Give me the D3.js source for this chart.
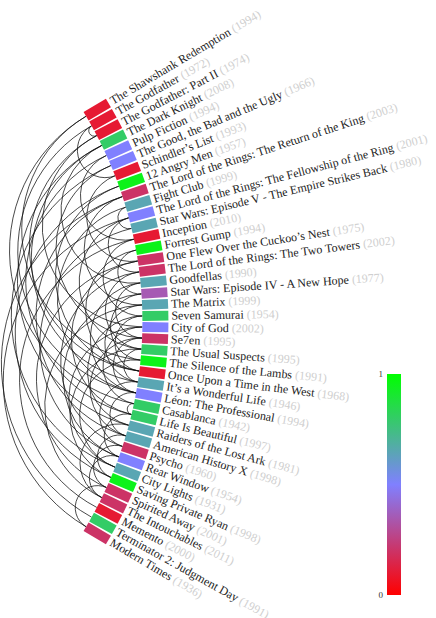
<!DOCTYPE html>
<html>
<head>
<meta charset="utf-8">
<script src="https://cdn.jsdelivr.net/npm/d3@7"></script>
<style>
  body { margin: 0; background: #fff; }
  text { font-family: "Liberation Serif", "DejaVu Serif", serif; }
</style>
</head>
<body>
<div id="chart"></div>
<script>
'use strict';

// Data - movies in layout order, year, score (0..1) and links
const titles = [
  'The Shawshank Redemption', 'The Godfather', 'The Godfather: Part II', 'The Dark Knight',
  'Pulp Fiction', 'The Good, the Bad and the Ugly', 'Schindler\u2019s List', '12 Angry Men',
  'The Lord of the Rings: The Return of the King', 'Fight Club',
  'The Lord of the Rings: The Fellowship of the Ring', 'Star Wars: Episode V - The Empire Strikes Back',
  'Inception', 'Forrest Gump', 'One Flew Over the Cuckoo\u2019s Nest', 'The Lord of the Rings: The Two Towers',
  'Goodfellas', 'Star Wars: Episode IV - A New Hope', 'The Matrix', 'Seven Samurai',
  'City of God', 'Se7en', 'The Usual Suspects', 'The Silence of the Lambs',
  'Once Upon a Time in the West', 'It\u2019s a Wonderful Life', 'L\u00e9on: The Professional', 'Casablanca',
  'Life Is Beautiful', 'Raiders of the Lost Ark', 'American History X', 'Psycho',
  'Rear Window', 'City Lights', 'Saving Private Ryan', 'Spirited Away',
  'The Intouchables', 'Memento', 'Terminator 2: Judgment Day', 'Modern Times'
];
const years = [
  1994, 1972, 1974, 2008, 1994, 1966, 1993, 1957, 2003, 1999,
  2001, 1980, 2010, 1994, 1975, 2002, 1990, 1977, 1999, 1954,
  2002, 1995, 1995, 1991, 1968, 1946, 1994, 1942, 1997, 1981,
  1998, 1960, 1954, 1931, 1998, 2001, 2011, 2000, 1991, 1936
];
const scores = [
  0.1, 0.1, 0.1, 0.8, 0.5, 0.5, 0.1, 0.95, 0.2, 0.65,
  0.5, 0.65, 0.1, 0.95, 0.2, 0.2, 0.65, 0.35, 0.65, 0.8,
  0.5, 0.2, 0.8, 0.95, 0.1, 0.65, 0.5, 0.8, 0.8, 0.65,
  0.65, 0.2, 0.5, 0.65, 0.95, 0.2, 0.2, 0.1, 0.8, 0.2
];
// links as [source index, target index]
const links = [
  [0, 27], [0, 23], [1, 2], [1, 6], [1, 26], [2, 20], [2, 24], [3, 16],
  [3, 25], [3, 29], [4, 12], [4, 28], [5, 21], [5, 33], [6, 14], [7, 24],
  [7, 34], [8, 18], [8, 30], [8, 38], [9, 11], [9, 26], [10, 15], [10, 22],
  [10, 39], [11, 32], [12, 19], [12, 37], [13, 17], [13, 24], [14, 28], [14, 35],
  [15, 22], [15, 31], [16, 21], [16, 26], [17, 23], [17, 32], [18, 25], [18, 36],
  [19, 24], [19, 29], [20, 27], [20, 33], [21, 26], [21, 30], [22, 25], [22, 34],
  [23, 33], [25, 31], [26, 30], [27, 28], [28, 32], [29, 36], [30, 34], [31, 35],
  [32, 36], [35, 39]
];
const legendTicks = [0, 1];

// Layout
const width = 436, height = 618;
const cx = -259.6, cy = 321.5;   // centre of the node circle (off canvas)
const rIn = 402, rOut = 428;

const angle = d3.scalePoint().domain(d3.range(titles.length)).range([-30.7, 30.7]);
const color = d3.scaleLinear().domain([0, 0.5, 1]).range(['#ff0000', '#8080ff', '#00ff00']);
const rad = i => angle(i) * Math.PI / 180;
const stepDeg = angle.step();
const blockW = rIn * stepDeg * Math.PI / 180 - 1.2;

function inner(i) {
  return [cx + rIn * Math.cos(rad(i)), cy + rIn * Math.sin(rad(i))];
}

// arc orthogonal to the node circle, bulging towards its centre
function linkPath(l) {
  let a = Math.min(l[0], l[1]), b = Math.max(l[0], l[1]);
  let p = inner(a), q = inner(b);
  let r = rIn * Math.tan((rad(b) - rad(a)) / 2);
  return `M${p[0]},${p[1]}A${r},${r} 0 0,0 ${q[0]},${q[1]}`;
}

let svg = d3.select('#chart').append('svg')
  .attr('width', width).attr('height', height);

// Draw links
svg.append('g')
  .selectAll('path.link')
  .data(links)
  .join('path')
  .classed('link', true)
  .attr('d', linkPath)
  .attr('fill', 'none')
  .attr('stroke', '#111')
  .attr('stroke-opacity', 0.85)
  .attr('stroke-width', 0.9);

// Draw nodes
let nodes = svg.append('g')
  .selectAll('g.node')
  .data(d3.range(titles.length))
  .join('g')
  .classed('node', true)
  .attr('transform', i => `translate(${cx},${cy}) rotate(${angle(i)})`);

nodes.append('rect')
  .attr('x', rIn)
  .attr('y', -blockW / 2)
  .attr('width', rOut - rIn)
  .attr('height', blockW)
  .attr('fill', i => color(scores[i]));

let labels = nodes.append('text')
  .attr('x', rOut + 3)
  .attr('dy', '0.33em')
  .attr('font-size', 12);

labels.append('tspan')
  .attr('fill', '#222')
  .text(i => titles[i]);

labels.append('tspan')
  .attr('fill', '#cfcfcf')
  .text(i => ` (${years[i]})`);

// Colour legend
let defs = svg.append('defs');
let grad = defs.append('linearGradient')
  .attr('id', 'legendGrad')
  .attr('x1', 0).attr('y1', 1).attr('x2', 0).attr('y2', 0);
grad.selectAll('stop')
  .data(d3.range(0, 1.01, 0.1))
  .join('stop')
  .attr('offset', d => d)
  .attr('stop-color', d => color(d));

let legendY = d3.scaleLinear().domain([0, 1]).range([595, 374]);

svg.append('rect')
  .attr('x', 387).attr('y', 374)
  .attr('width', 14).attr('height', 221)
  .attr('fill', 'url(#legendGrad)');

let axis = svg.append('g')
  .attr('transform', 'translate(386,0)')
  .call(d3.axisLeft(legendY).tickValues(legendTicks).tickSize(0).tickPadding(3).tickFormat(d3.format('d')));
axis.select('.domain').remove();
axis.selectAll('text')
  .attr('font-family', '"Liberation Serif", serif')
  .attr('font-size', 9)
  .attr('fill', '#333');
</script>
</body>
</html>
